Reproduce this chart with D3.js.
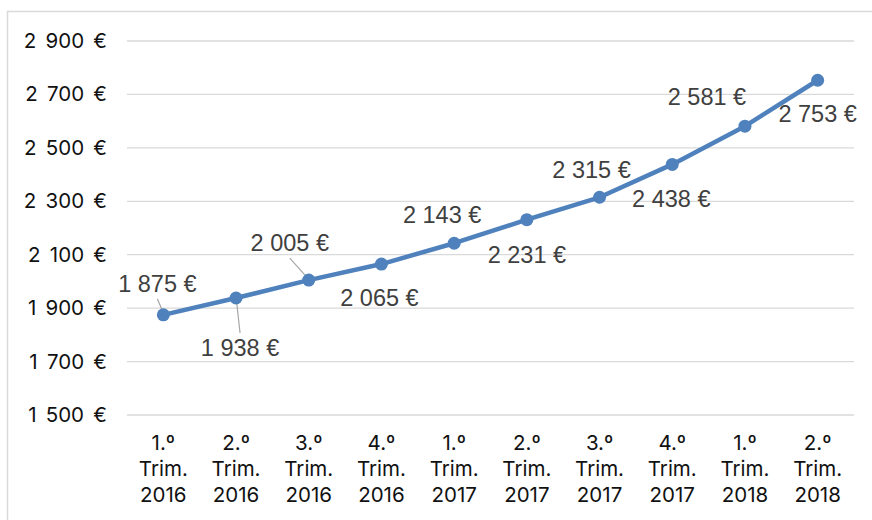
<!DOCTYPE html>
<html>
<head>
<meta charset="utf-8">
<script src="https://cdn.jsdelivr.net/npm/d3@7/dist/d3.min.js"></script>
<style>
  html, body { margin: 0; padding: 0; background: #fff; }
  svg { display: block; }
</style>
</head>
<body>
<svg id="chart" width="872" height="520"></svg>
<script>
// Quarter labels (three text lines each) and average values in euros
const quarters = ["1.º", "2.º", "3.º", "4.º", "1.º", "2.º", "3.º", "4.º", "1.º", "2.º"];
const years = ["2016", "2016", "2016", "2016", "2017", "2017", "2017", "2017", "2018", "2018"];
const values = [1875, 1938, 2005, 2065, 2143, 2231, 2315, 2438, 2581, 2753];
const yTicks = [1500, 1700, 1900, 2100, 2300, 2500, 2700, 2900];

// Label placement relative to each point (offset of the text centre)
const labelOffsets = [
  [-6, -31], [4, 50], [-19, -37], [-2, 34], [-12, -28],
  [0, 35], [-8, -28], [-1, 34], [-38, -29], [0, 34]
];
// Labels that get a thin leader line back to their point
const leaders = { 0: true, 1: true, 2: true };

const svg = d3.select("#chart");
const fmt = v => d3.format(",")(v).replace(/,/g, " ") + " €";

// Outer frame
svg.append("rect")
  .attr("x", 7.5).attr("y", 11.5)
  .attr("width", 900).attr("height", 600)
  .attr("fill", "#fff").attr("stroke", "#d9d9d9").attr("stroke-width", 1.5);

const x = d3.scalePoint().domain(d3.range(values.length)).range([127, 854]).padding(0.5);
const y = d3.scaleLinear().domain([1500, 2900]).range([415, 41]);

// Horizontal gridlines
svg.append("g").selectAll("line").data(yTicks).join("line")
  .attr("x1", 127).attr("x2", 854)
  .attr("y1", d => y(d)).attr("y2", d => y(d))
  .attr("stroke", "#d9d9d9").attr("stroke-width", 1.3);

// Y axis labels
const yAxis = d3.axisLeft(y).tickValues(yTicks).tickSize(0).tickPadding(0).tickFormat(fmt);
const gy = svg.append("g").attr("transform", "translate(107,0)").call(yAxis);
gy.select(".domain").remove();
gy.selectAll("text")
  .attr("font-family", "Inter, 'Noto Sans', sans-serif")
  .attr("font-size", 20.5).attr("fill", "#111")
  .attr("word-spacing", 3.5);

// X axis labels: three lines per category
const gx = svg.append("g");
const cat = gx.selectAll("text").data(values.map((v, i) => i)).join("text")
  .attr("text-anchor", "middle")
  .attr("font-family", "Inter, 'Noto Sans', sans-serif")
  .attr("font-size", 20.5).attr("fill", "#111");
cat.append("tspan").attr("x", i => x(i)).attr("y", 450).text(i => quarters[i]);
cat.append("tspan").attr("x", i => x(i)).attr("y", 476).text("Trim.");
cat.append("tspan").attr("x", i => x(i)).attr("y", 502).text(i => years[i]);

// Leader lines for the labels pulled away from their points
const lead = svg.append("g").attr("stroke", "#a6a6a6").attr("stroke-width", 1.2);
values.forEach((v, i) => {
  if (!leaders[i]) return;
  const px = x(i), py = y(v);
  const lx = px + labelOffsets[i][0], ly = py + labelOffsets[i][1];
  const dirY = ly < py ? 1 : -1;
  lead.append("line")
    .attr("x1", lx).attr("y1", ly + dirY * 15)
    .attr("x2", px + (lx - px) * 0.15).attr("y2", py - dirY * 4);
});

// Series line and markers
const color = "#4f81bd";
svg.append("path")
  .datum(values)
  .attr("fill", "none").attr("stroke", color).attr("stroke-width", 4.5)
  .attr("stroke-linejoin", "round").attr("stroke-linecap", "round")
  .attr("d", d3.line().x((d, i) => x(i)).y(d => y(d)));

svg.append("g").selectAll("circle").data(values).join("circle")
  .attr("cx", (d, i) => x(i)).attr("cy", d => y(d))
  .attr("r", 6.5).attr("fill", color);

// Data labels
svg.append("g").selectAll("text").data(values).join("text")
  .attr("x", (d, i) => x(i) + labelOffsets[i][0])
  .attr("y", (d, i) => y(d) + labelOffsets[i][1])
  .attr("dy", "0.35em")
  .attr("text-anchor", "middle")
  .attr("font-family", "'Liberation Sans', Arial, sans-serif")
  .attr("font-size", 23.5).attr("fill", "#404040")
  .text(d => fmt(d));
</script>
</body>
</html>
